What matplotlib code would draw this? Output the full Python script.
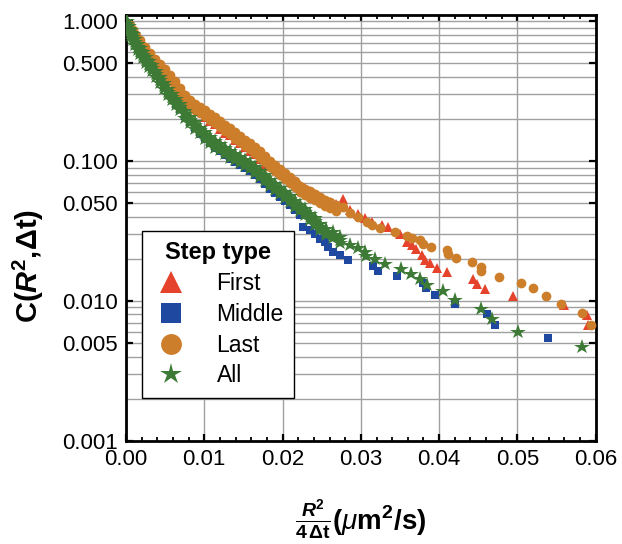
import matplotlib
matplotlib.use('Agg')
import matplotlib.pyplot as plt
from matplotlib.lines import Line2D
from matplotlib.ticker import FixedLocator, FixedFormatter, MultipleLocator, LogLocator, NullFormatter, FormatStrFormatter

plt.rcParams['font.family'] = ['Liberation Sans', 'DejaVu Sans']
plt.rcParams['mathtext.fontset'] = 'custom'
plt.rcParams['mathtext.rm'] = 'Liberation Sans'
plt.rcParams['mathtext.it'] = 'Liberation Sans:italic'
plt.rcParams['mathtext.bf'] = 'Liberation Sans:bold'
plt.rcParams['mathtext.bfit'] = 'Liberation Sans:bold:italic'

# ---------------- data ----------------
labels = ['First', 'Middle', 'Last', 'All']
ytick_vals = [0.001, 0.005, 0.01, 0.05, 0.1, 0.5, 1.0]
ytick_labels = ['0.001', '0.005', '0.010', '0.050', '0.100', '0.500', '1.000']

# All steps: dense band (x, upper edge, centre, lower edge)
all_dense = [
    (0.0001, 1.00, 0.960, 0.91), (0.0004, 0.93, 0.884, 0.84), (0.0006, 0.87, 0.827, 0.79),
    (0.0009, 0.81, 0.774, 0.735), (0.0011, 0.75, 0.713, 0.68), (0.0015, 0.69, 0.656, 0.62),
    (0.0018, 0.645, 0.615, 0.585), (0.0022, 0.60, 0.575, 0.545), (0.0026, 0.555, 0.530, 0.505),
    (0.0029, 0.52, 0.496, 0.47), (0.0033, 0.487, 0.464, 0.44), (0.0038, 0.44, 0.420, 0.40),
    (0.0043, 0.40, 0.381, 0.362), (0.0049, 0.362, 0.345, 0.328), (0.0054, 0.328, 0.312, 0.296),
    (0.0059, 0.302, 0.288, 0.273), (0.0064, 0.278, 0.265, 0.252), (0.0069, 0.256, 0.244, 0.232),
    (0.0075, 0.227, 0.216, 0.205), (0.0082, 0.206, 0.196, 0.186), (0.0088, 0.189, 0.180, 0.171),
    (0.0095, 0.174, 0.166, 0.158), (0.0101, 0.161, 0.153, 0.145), (0.0107, 0.149, 0.142, 0.135),
    (0.0114, 0.139, 0.132, 0.125), (0.0120, 0.132, 0.126, 0.120), (0.0126, 0.124, 0.118, 0.112),
    (0.0133, 0.118, 0.112, 0.106), (0.0139, 0.112, 0.107, 0.102), (0.0146, 0.107, 0.102, 0.097),
    (0.0152, 0.1016, 0.0968, 0.0920), (0.0158, 0.0967, 0.0921, 0.0875), (0.0165, 0.0905, 0.0862, 0.0819),
    (0.0171, 0.0847, 0.0807, 0.0767), (0.0178, 0.0793, 0.0755, 0.0717), (0.0184, 0.0731, 0.0696, 0.0661),
    (0.0190, 0.0684, 0.0651, 0.0618), (0.0197, 0.0639, 0.0609, 0.0579), (0.0203, 0.0599, 0.0570, 0.0542),
    (0.0210, 0.0561, 0.0534, 0.0507), (0.0216, 0.0517, 0.0492, 0.0467), (0.0222, 0.0483, 0.0460, 0.0437),
    (0.0229, 0.0453, 0.0431, 0.0409), (0.0235, 0.0419, 0.0399, 0.0379), (0.0241, 0.0390, 0.0371, 0.0352),
    (0.0248, 0.0355, 0.0338, 0.0321), (0.0256, 0.0327, 0.0311, 0.0295), (0.0264, 0.0310, 0.0295, 0.0280),
    (0.0273, 0.0286, 0.0272, 0.0258),
]
all_sparse = [
    (0.0286, 0.0250), (0.0296, 0.0238), (0.0305, 0.0224), (0.0306, 0.0208), (0.0318, 0.0201),
    (0.0331, 0.0185), (0.0351, 0.0170), (0.0364, 0.0157), (0.0375, 0.0144), (0.0385, 0.0130),
    (0.0405, 0.0117), (0.0420, 0.0101), (0.0454, 0.00873), (0.0467, 0.00737), (0.0501, 0.00597),
    (0.0583, 0.00466),
]

# Middle steps
middle_pts = [
    (0.0001, 0.95), (0.0004, 0.87), (0.0006, 0.81), (0.0009, 0.76), (0.0011, 0.70), (0.0015, 0.645),
    (0.0018, 0.60), (0.0022, 0.565), (0.0026, 0.52), (0.0029, 0.485), (0.0033, 0.455), (0.0038, 0.41),
    (0.0043, 0.372), (0.0049, 0.337), (0.0054, 0.305), (0.0059, 0.282), (0.0064, 0.258), (0.0069, 0.236),
    (0.0075, 0.209), (0.0082, 0.189), (0.0088, 0.172), (0.0095, 0.157), (0.0101, 0.144), (0.0107, 0.134),
    (0.0114, 0.124), (0.0120, 0.118), (0.0126, 0.110), (0.0133, 0.104), (0.0139, 0.099), (0.0146, 0.094),
    (0.0152, 0.089), (0.0158, 0.0845), (0.0165, 0.079), (0.0171, 0.074), (0.0178, 0.069), (0.0184, 0.0635),
    (0.0190, 0.0595), (0.0197, 0.0555), (0.0203, 0.052), (0.0210, 0.0485), (0.0216, 0.0445), (0.0222, 0.041),
    (0.0226, 0.0338), (0.0235, 0.0320), (0.0241, 0.0303), (0.0248, 0.0279), (0.0254, 0.0264), (0.0258, 0.0243),
    (0.0264, 0.0224), (0.0273, 0.0212), (0.0284, 0.0195), (0.0316, 0.0177), (0.0322, 0.0164), (0.0346, 0.0150),
    (0.0379, 0.0135), (0.0383, 0.0123), (0.0395, 0.0110), (0.0420, 0.0095), (0.0461, 0.00808),
    (0.0472, 0.00678), (0.0539, 0.00546),
]

# Last steps: dense band (x, upper, centre, lower) then single points
last_dense = [
    (0.0005, 0.943, 0.898, 0.853), (0.0009, 0.868, 0.827, 0.786), (0.0013, 0.80, 0.762, 0.724),
    (0.0018, 0.736, 0.701, 0.666), (0.0024, 0.656, 0.625, 0.594), (0.0031, 0.594, 0.566, 0.538),
    (0.0037, 0.539, 0.513, 0.487), (0.0043, 0.496, 0.472, 0.448), (0.0050, 0.457, 0.435, 0.413),
    (0.0056, 0.414, 0.394, 0.374), (0.0063, 0.375, 0.357, 0.339), (0.0069, 0.334, 0.318, 0.302),
    (0.0075, 0.297, 0.283, 0.269), (0.0082, 0.273, 0.260, 0.247), (0.0088, 0.256, 0.244, 0.232),
    (0.0095, 0.244, 0.232, 0.220), (0.0101, 0.232, 0.221, 0.210), (0.0107, 0.217, 0.207, 0.197),
    (0.0114, 0.207, 0.197, 0.187), (0.0120, 0.193, 0.184, 0.175), (0.0126, 0.181, 0.172, 0.163),
    (0.0133, 0.172, 0.164, 0.156), (0.0139, 0.161, 0.153, 0.145), (0.0146, 0.151, 0.144, 0.137),
    (0.0152, 0.142, 0.135, 0.128), (0.0158, 0.134, 0.128, 0.122), (0.0165, 0.126, 0.120, 0.114),
    (0.0171, 0.118, 0.112, 0.106), (0.0178, 0.108, 0.103, 0.098), (0.0184, 0.100, 0.0952, 0.0904),
    (0.0190, 0.0936, 0.0891, 0.0846), (0.0197, 0.0876, 0.0834, 0.0792), (0.0203, 0.0820, 0.0781, 0.0742),
    (0.0210, 0.0768, 0.0731, 0.0694), (0.0216, 0.0718, 0.0684, 0.0650), (0.0222, 0.0667, 0.0635, 0.0603),
    (0.0229, 0.0635, 0.0605, 0.0575), (0.0235, 0.0607, 0.0578, 0.0549), (0.0241, 0.0580, 0.0552, 0.0524),
    (0.0248, 0.0551, 0.0525, 0.0499), (0.0254, 0.0525, 0.0500, 0.0475), (0.0261, 0.0508, 0.0484, 0.0460),
    (0.0268, 0.0483, 0.0460, 0.0437),
]
last_sparse = [
    (0.0277, 0.0468), (0.0286, 0.0424), (0.0296, 0.0397), (0.0308, 0.0365), (0.0314, 0.0347),
    (0.0324, 0.0330), (0.0344, 0.0312), (0.0359, 0.0290), (0.0365, 0.0284), (0.0376, 0.0272),
    (0.0379, 0.0256), (0.0389, 0.0244), (0.0410, 0.0232), (0.0411, 0.0217), (0.0422, 0.0203),
    (0.0442, 0.0190), (0.0454, 0.0175), (0.0454, 0.0164), (0.0477, 0.0149), (0.0505, 0.0135),
    (0.0520, 0.0123), (0.0536, 0.0109), (0.0556, 0.00956), (0.0583, 0.00822), (0.0594, 0.00677),
]

# First steps
first_pts = [
    (0.0005, 0.898), (0.0009, 0.827), (0.0013, 0.762), (0.0018, 0.701), (0.0024, 0.625), (0.0031, 0.566),
    (0.0037, 0.513), (0.0043, 0.472), (0.0050, 0.435), (0.0056, 0.394), (0.0063, 0.357), (0.0069, 0.318),
    (0.0075, 0.283), (0.0082, 0.260), (0.0088, 0.244), (0.0095, 0.232), (0.0101, 0.206), (0.0107, 0.193),
    (0.0114, 0.183), (0.0120, 0.171), (0.0126, 0.160), (0.0133, 0.153), (0.0139, 0.142), (0.0146, 0.134),
    (0.0152, 0.126), (0.0158, 0.119), (0.0165, 0.112), (0.0171, 0.104), (0.0178, 0.096), (0.0184, 0.092),
    (0.0190, 0.088), (0.0197, 0.084), (0.0203, 0.080), (0.0210, 0.076), (0.0216, 0.072), (0.0222, 0.068),
    (0.0229, 0.064), (0.0235, 0.061), (0.0241, 0.058), (0.0248, 0.055), (0.0254, 0.053), (0.0261, 0.051),
    (0.0268, 0.049), (0.0277, 0.054), (0.0286, 0.0445), (0.0296, 0.0417), (0.0305, 0.0390), (0.0314, 0.0365),
    (0.0327, 0.0348), (0.0335, 0.0337), (0.0350, 0.0303), (0.0359, 0.0264), (0.0365, 0.0250), (0.0371, 0.0237),
    (0.0378, 0.0212), (0.0382, 0.0195), (0.0388, 0.0187), (0.0397, 0.0173), (0.0410, 0.0160), (0.0443, 0.0144),
    (0.0449, 0.0133), (0.0459, 0.0121), (0.0495, 0.0108), (0.0560, 0.00942), (0.0589, 0.00797),
    (0.0590, 0.00667),
]

# ---------------- styling ----------------
c_first = '#E5432B'
c_middle = '#1F48A0'
c_last = '#CC7E2B'
c_all = '#3C7A36'

fig = plt.figure(figsize=(6.22, 5.44), dpi=100)
ax = fig.add_axes([0.2026, 0.1899, 0.7551, 0.7825])
ax.set_yscale('log')

def col(pts, i=0):
    return [p[i] for p in pts]

# First (triangles)
ax.plot(col(first_pts), col(first_pts, 1), ls='', marker='^', ms=7.5, color=c_first, mew=0, zorder=3)
# Middle (squares)
ax.plot(col(middle_pts), col(middle_pts, 1), ls='', marker='s', ms=5.5, color=c_middle, mew=0, zorder=3)
# Last (circles)
for k in (1, 2, 3):
    ax.plot(col(last_dense), col(last_dense, k), ls='', marker='o', ms=7, color=c_last, mew=0, zorder=3)
ax.plot(col(last_sparse), col(last_sparse, 1), ls='', marker='o', ms=7, color=c_last, mew=0, zorder=3)
# All (stars)
for k in (1, 2, 3):
    ax.plot(col(all_dense), col(all_dense, k), ls='', marker='*', ms=11.5, color=c_all, mew=0, zorder=3)
ax.plot(col(all_sparse), col(all_sparse, 1), ls='', marker='*', ms=11.5, color=c_all, mew=0, zorder=3)

ax.set_xlim(0, 0.06)
ax.set_ylim(0.001, 1.11)

ax.xaxis.set_major_locator(MultipleLocator(0.01))
ax.xaxis.set_minor_locator(MultipleLocator(0.002))
ax.xaxis.set_major_formatter(FormatStrFormatter('%.2f'))
ax.yaxis.set_major_locator(FixedLocator(ytick_vals))
ax.yaxis.set_major_formatter(FixedFormatter(ytick_labels))
ax.yaxis.set_minor_locator(LogLocator(base=10, subs=(2, 3, 4, 6, 7, 8, 9), numticks=30))
ax.yaxis.set_minor_formatter(NullFormatter())

ax.tick_params(which='both', direction='in', top=True, right=True, labelsize=16)
ax.tick_params(which='major', length=5, width=1.6, pad=6)
ax.tick_params(axis='x', which='minor', length=3, width=1.3)
ax.tick_params(axis='y', which='minor', length=0)

ax.grid(True, which='major', axis='both', color='#a0a0a0', lw=1.0, zorder=0)
ax.grid(True, which='minor', axis='y', color='#a0a0a0', lw=1.0, zorder=0)
ax.set_axisbelow(True)
for s in ax.spines.values():
    s.set_linewidth(2.0)

ax.set_ylabel(r'$\mathbf{C(}\mathbfit{R}^{\mathbf{2}}\mathbf{,\!\Delta t)}$', fontsize=21)
ax.yaxis.set_label_coords(-0.17, 0.41)
ax.set_xlabel(r'$\frac{\mathbfit{R}^{\mathbf{2}}}{\mathbf{4\,\Delta t}}\mathbf{(}\mu\mathbf{m}^{\mathbf{2}}\mathbf{/s)}$', fontsize=20)
ax.xaxis.set_label_coords(0.5, -0.135)

handles = [
    Line2D([], [], ls='', marker='^', ms=16, color=c_first, mew=0),
    Line2D([], [], ls='', marker='s', ms=14, color=c_middle, mew=0),
    Line2D([], [], ls='', marker='o', ms=15, color=c_last, mew=0),
    Line2D([], [], ls='', marker='*', ms=16, color=c_all, mew=0),
]
leg = ax.legend(handles, labels, title='Step type', loc='upper left', bbox_to_anchor=(0.034, 0.4926),
                frameon=True, fancybox=False, edgecolor='black', framealpha=1, fontsize=16.5,
                title_fontproperties={'weight': 'bold', 'size': 17}, handletextpad=1.2,
                borderpad=0.45, labelspacing=0.34, handlelength=1.6, borderaxespad=0)
leg.get_frame().set_linewidth(1.0)
leg.set_zorder(5)

fig.savefig('out.png', dpi=100)
